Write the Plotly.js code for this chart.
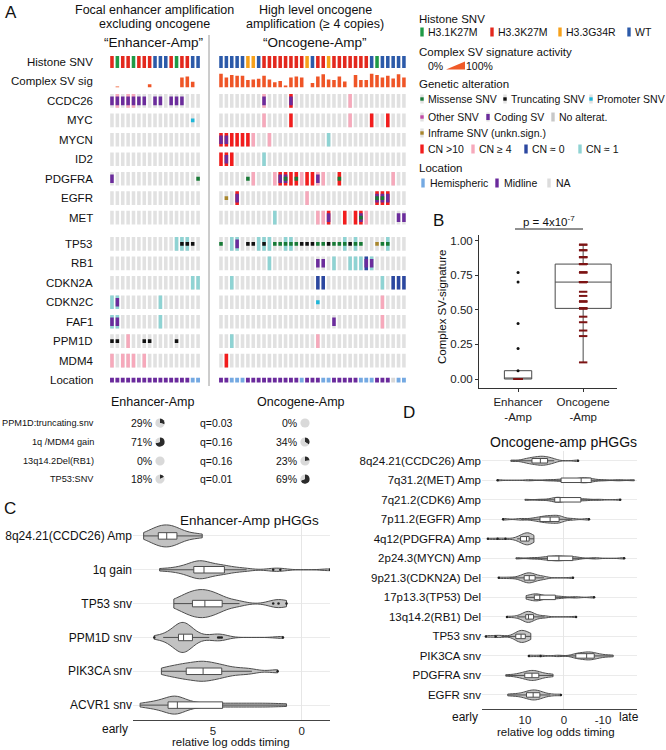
<!DOCTYPE html>
<html><head><meta charset="utf-8">
<script src="https://cdn.plot.ly/plotly-3.0.1.min.js"></script>
<style>html,body{margin:0;padding:0;background:#fff}#chart{width:666px;height:750px}</style>
</head><body><div id="chart"></div>
<script>
// ================= DATA =================
// Panel A: oncoprint (17 Enhancer-Amp samples, 35 Oncogene-Amp samples)
const histoneEnh = 'RGRRGRRRBBBRGRRBB';
const histoneOnc = 'BBBBBOOBRRRRRRRROBRRORRRRRRRBGBBBBB';
const csvEnh = [0,0.06,0,0,0,0,0,0.22,0,0,0,0,0,0.70,0.77,0.40,0];
const csvOnc = [0.97,0.70,0.88,0.83,0.83,0.51,0.56,0.60,0.83,0.56,0.35,0.45,0.12,0.70,0.77,0.70,null,0.31,0.77,0.93,0.56,0.51,0.77,0.41,null,0.88,0.51,0.51,0.97,0.88,0.70,0.83,0.63,0.93,0.70];
const genes = ['CCDC26','MYC','MYCN','ID2','PDGFRA','EGFR','MET','TP53','RB1','CDKN2A','CDKN2C','FAF1','PPM1D','MDM4'];
// tokens: e=Enhancer-Amp / o=Oncogene-Amp, sample index (or range), code
const cnCalls = [
 'e1g e3g e4g o8g o13A o24g',
 'o8g o13A o24g o28A o31A',
 'o0-5A o6g o9g o20L',
 'o0-2A o8L',
 'o6g o10g o11-14A o15g o16-17A o18-19g o22A o32g',
 'o3A o16g o29-31A',
 'o10L o18-19g o20A o23A o25-26A o27g',
 'e12-14L o2-3L o7-9L o12-13L o23L o25L o31L',
 'o9L o21L o24-26L o27D o28L',
 'e15-16L o2L o18-19D o30L o32-34D',
 'e0-1L e9L o30g',
 'e0-1L e9L o30g',
 'e3g o2L o18g',
 'e0g e2-4g e6g o1A'
];
const svCalls = [
 'e0-6 e8-9 e11-13 o8 o13', '', 'o0-1', 'o1', 'e0 o11-12 o18', 'o3 o29-31', 'o20 o26 o33-34',
 'o3', 'o18-19 o27-28', '', 'e1', 'e0-1 o21', '', ''
];
const snvCalls = [
 '', 'e15p', '', '', 'e16m o5m o12m o14m o22m', 'o1i o29-30m', 'o26m',
 'e13-15t o0m o5-6t o8t o10-14m o15-17t o18-19m o20t o21-23m o24t o25-26m o29i o30-31m',
 '', '', 'o18p', '', 'e0-1t e6-7t e12t', ''
];
const locationEnh = 'MMMMMMMMMMMMMMMHH';
const locationOnc = 'MMHHHMMMMMMMMMMHMMMHHMMMMMHHHMMMNHH';

// Frequency table
const tableFeatures = ['PPM1D:truncating.snv','1q /MDM4 gain','13q14.2Del(RB1)','TP53:SNV'];
const pctEnh = [29,71,0,18];
const pctOnc = [0,34,23,69];
const qValues = ['q=0.03','q=0.16','q=0.16','q=0.01'];

// Panel C: Enhancer-Amp timing samples
const catsC = ['8q24.21(CCDC26) Amp','1q gain','TP53 snv','PPM1D snv','PIK3CA snv','ACVR1 snv'];
const timingC = [
 [8.9,8.6,8.4,8.3,8.2,8.1,8.0,7.9,7.8,7.7,7.6,7.6,7.5,7.4,7.3,7.2,7.1,7.0,6.9,6.7,6.4,6.0,5.6],
 [8.0,7.3,6.9,6.6,6.4,6.2,6.1,6.0,5.9,5.8,5.7,5.6,5.5,5.5,5.4,5.2,5.0,4.8,4.6,4.5,4.3,4.0,3.6,3.1,1.6,1.2,-1.6],
 [7.2,6.9,6.6,6.4,6.3,6.2,6.0,5.9,5.7,5.6,5.5,5.45,5.3,5.1,4.9,4.8,4.7,4.4,4.0,3.5,1.6,1.3,0.85],
 [8.3,7.8,7.5,7.3,7.1,7.0,6.95,6.9,6.85,6.8,6.75,6.7,6.7,6.65,6.6,6.55,6.5,6.4,6.35,6.3,6.1,5.8,5.2,4.7,4.6,4.5,1.05],
 [7.9,7.5,7.2,6.9,6.7,6.5,6.3,6.1,5.9,5.7,5.6,5.5,5.3,5.1,4.9,4.7,4.5,4.2,3.8,3.3,2.8,1.35],
 [9.1,8.6,8.3,8.0,7.8,7.6,7.5,7.3,7.2,7.1,7.0,7.0,7.0,6.7,6.5,6.2,5.8,5.2,4.6,4.0,3.4,2.8,2.2,1.6,0.85]
];
// Panel D: Oncogene-Amp timing samples
const catsD = ['8q24.21(CCDC26) Amp','7q31.2(MET) Amp','7q21.2(CDK6) Amp','7p11.2(EGFR) Amp','4q12(PDGFRA) Amp','2p24.3(MYCN) Amp','9p21.3(CDKN2A) Del','17p13.3(TP53) Del','13q14.2(RB1) Del','TP53 snv','PIK3CA snv','PDGFRA snv','EGFR snv'];
const timingD = [
 [13.6,10.5,9.5,8.8,8.2,7.8,7.2,6.6,6.2,5.9,5.6,5.1,4.6,4.2,3.8,3.0,2.5,-3.6],
 [17,9,4,1.5,0.5,-1,-3,-4,-4.4,-4.8,-5.5,-6.2,-6.8,-7.5,-10,-14,-18],
 [10,6,3.5,2.5,2,1.5,1.2,1,0,-1.5,-3.5,-4.6,-6,-9,-14.4],
 [15.6,11,8,6.5,5.8,5,4.2,3.8,3.3,2.5,1.8,1.4,1.1,0.6,-2,-6.4],
 [19.5,17,15,12,11.5,11,10.7,10.4,10.1,9.8,9.6,9.5,9.4,9.3,9.2,9.0,8.7,8.5,8.2,7.9,7.7],
 [12.3,8,5.5,4.5,3.5,2.5,1.8,1.3,0.5,-0.5,-1.5,-2.5,-3.5,-8,-15.4],
 [16.7,14,11.5,10.8,10.2,9.8,9.5,9.2,9.0,8.8,8.5,8.2,7.8,7.4,6.5,5.5,5.1,-2.3],
 [9.7,9.0,8.2,7.6,7.2,6.8,6.4,6.0,4.5,3.0,2.2,0.5,-3,-7.7],
 [14.6,12,10.8,10.2,9.8,9.6,9.4,9.3,9.2,9.0,8.8,8.6,8.3,7.8,7.3,5.5,5.0,-3.1],
 [20,17.5,16,12.8,12.2,11.8,11.5,11.2,11.0,10.9,10.7,10.4,10.0,9.6,9.2,8.9,8.5],
 [9,6,1.5,-2.5,-3.2,-3.8,-4.5,-5.2,-5.8,-6.1,-6.5,-7.0,-7.6,-8.2,-9.0,-10.5,-12.6],
 [14.9,12.5,11.3,10.5,9.9,9.4,8.9,8.5,8.2,7.9,7.5,7.0,6.6,6.0,5.4,4.0,2.8],
 [14.4,12.5,11,10.2,9.4,9.0,8.5,8.2,7.9,7.5,7.1,6.7,6.3,5.8,5.1,3.5,0.8]
];

// ================= STYLE / LAYOUT HELPERS =================
const W = 666, H = 750;
const FONT = '"Liberation Sans", Arial, sans-serif';
const PX = x => x / W, PY = y => 1 - y / H;
const C = {
  hist: {G:'#1f9a46', R:'#e3281d', O:'#f6a11b', B:'#2c5aa9'},
  cn: {A:'#f21d1d', g:'#f6a9bb', D:'#2b47a0', L:'#8fd3d3'},
  snv: {m:'#177a36', t:'#111111', p:'#1fb6d8', o:'#c24aa6', i:'#a8862c'},
  sv:'#6b2c9c', gray:'#e1e1e1', csv:'#ef5527',
  loc: {M:'#6a2a9c', H:'#74a9e2', N:'#d8d8d8'}
};
const ONC_OFFSET = 20.26;   // column gap between the two groups
const colX = (g, i) => g === 'e' ? i : ONC_OFFSET + i;
const geneSlot = k => k < 7 ? 2 + k : 9.35 + (k - 7);
const LOC_SLOT = 16.35;
const CELL_W = 0.66;

function parseCalls(str){
  const out = [];
  (str || '').trim().split(/\s+/).filter(Boolean).forEach(tok => {
    const m = tok.match(/^([eo])(\d+)(?:-(\d+))?([A-Za-z]?)$/);
    const a = +m[2], b = m[3] ? +m[3] : a;
    for (let i = a; i <= b; i++) out.push({g:m[1], i, code:m[4]});
  });
  return out;
}

const traces = [];
const groups = {};
function addCell(key, color, x, center, h, w){
  if (!groups[key]) groups[key] = {color, w, x:[], base:[], y:[]};
  groups[key].x.push(x); groups[key].base.push(center - h/2); groups[key].y.push(h);
}
[['e',histoneEnh],['o',histoneOnc]].forEach(([g,s]) => s.split('').forEach((c,i) => addCell('h'+c, C.hist[c], colX(g,i), 0, 0.62, CELL_W)));
genes.forEach((gn,k) => {
  for (let i=0;i<17;i++) addCell('bg', C.gray, colX('e',i), geneSlot(k), 0.70, CELL_W);
  for (let j=0;j<35;j++) addCell('bg', C.gray, colX('o',j), geneSlot(k), 0.70, CELL_W);
});
genes.forEach((gn,k) => parseCalls(cnCalls[k]).forEach(c => addCell('cn'+c.code, C.cn[c.code], colX(c.g,c.i), geneSlot(k), 0.70, CELL_W)));
genes.forEach((gn,k) => parseCalls(svCalls[k]).forEach(c => addCell('sv', C.sv, colX(c.g,c.i), geneSlot(k), 0.44, CELL_W)));
genes.forEach((gn,k) => parseCalls(snvCalls[k]).forEach(c => addCell('snv'+c.code, C.snv[c.code], colX(c.g,c.i), geneSlot(k), 0.2, CELL_W)));
[['e',locationEnh],['o',locationOnc]].forEach(([g,s]) => s.split('').forEach((c,i) => addCell('loc'+c, C.loc[c], colX(g,i), LOC_SLOT, 0.24, 0.72)));

Object.values(groups).forEach(gr => traces.push({
  type:'bar', x:gr.x, base:gr.base, y:gr.y, width:gr.w, xaxis:'x', yaxis:'y',
  marker:{color:gr.color, line:{width:0}}, hoverinfo:'skip', showlegend:false
}));
// complex SV signature bars (only samples with activity > 0)
const CSV_BOTTOM = 1.3, CSV_MAX = 0.72;
const csvX = [], csvBase = [], csvY = [];
[['e',csvEnh],['o',csvOnc]].forEach(([g,arr]) => arr.forEach((v,i) => {
  if (v === null || v <= 0) return;
  csvX.push(colX(g,i)); csvBase.push(CSV_BOTTOM); csvY.push(-v*CSV_MAX);
}));
traces.push({type:'bar', x:csvX, base:csvBase, y:csvY, width:CELL_W, xaxis:'x', yaxis:'y',
  marker:{color:C.csv, line:{width:0}}, hoverinfo:'skip', showlegend:false});

// ---------- Panel B ----------
const enhVals = csvEnh.filter(v => v !== null);
const oncVals = csvOnc.filter(v => v !== null);
const boxStyle = {type:'box', xaxis:'x2', yaxis:'y2', fillcolor:'#ffffff', line:{color:'#4a4a4a', width:1},
  whiskerwidth:0, boxpoints:'outliers', marker:{opacity:0, size:1}, quartilemethod:'inclusive', hoverinfo:'skip', showlegend:false};
traces.push(Object.assign({}, boxStyle, {x:enhVals.map(()=>0), y:enhVals, width:0.42}));
traces.push(Object.assign({}, boxStyle, {x:oncVals.map(()=>1), y:oncVals, width:0.86}));
const dashX = [], dashY = [], dotX = [], dotY = [];
enhVals.forEach(v => { if (v === 0) { dashX.push(0); dashY.push(v); } else { dotX.push(0); dotY.push(v); } });
oncVals.forEach(v => { dashX.push(1); dashY.push(v); });
traces.push({type:'scatter', mode:'markers', x:dashX, y:dashY, xaxis:'x2', yaxis:'y2',
  marker:{symbol:'line-ew-open', size:6, color:'#7d1414', line:{color:'#7d1414', width:2}}, hoverinfo:'skip', showlegend:false});
traces.push({type:'scatter', mode:'markers', x:dotX, y:dotY, xaxis:'x2', yaxis:'y2',
  marker:{symbol:'circle', size:3, color:'#111'}, hoverinfo:'skip', showlegend:false});

// ---------- Panels C & D (violins) ----------
const violinPxC = [22,18,28,30,20,18], pitchC = 33.8;
const violinPxD = [9,5,5,8,12,5,10,7,11,12,8,10,10], pitchD = 19.5;
function addViolins(cats, data, pxs, pitch, boxPx, bw, xa, ya){
  cats.forEach((cat,k) => {
    const w = pxs[k] / pitch;
    traces.push({type:'violin', orientation:'h', x:data[k], y:data[k].map(()=>cat), xaxis:xa, yaxis:ya,
      width:w, scalemode:'width', spanmode:'hard', bandwidth:bw, side:'both',
      fillcolor:'#c2c2c2', line:{color:'#4d4d4d', width:1},
      box:{visible:true, width:Math.min(0.9, boxPx/pxs[k]), fillcolor:'#ffffff', line:{color:'#4d4d4d', width:1}},
      meanline:{visible:false}, points:'outliers', pointpos:0, jitter:0,
      marker:{size:2.5, color:'#222', line:{width:0}}, hoverinfo:'skip', showlegend:false});
  });
}
addViolins(catsC, timingC, violinPxC, pitchC, 6.5, 0.45, 'x3', 'y3');
addViolins(catsD, timingD, violinPxD, pitchD, 4.5, 1.2, 'x4', 'y4');

// ---------- Pies ----------
function addPie(pct, cx, cy){
  const r = 4.6;
  traces.push({type:'pie', values:[pct, 100-pct], sort:false, direction:'clockwise', rotation:0,
    marker:{colors:['#2b2b2b','#d9d9d9'], line:{width:0}}, textinfo:'none', hoverinfo:'skip', showlegend:false,
    domain:{x:[PX(cx-r), PX(cx+r)], y:[PY(cy+r), PY(cy-r)]}});
}
const tableY = [423, 442, 461, 479];
tableY.forEach((y,k) => { addPie(pctEnh[k], 160, y); addPie(pctOnc[k], 305, y); });

// ================= ANNOTATIONS / SHAPES =================
const ann = [], shapes = [];
function txt(text, x, y, size, anchor, extra){
  ann.push(Object.assign({text, x:PX(x), y:PY(y), xref:'paper', yref:'paper', showarrow:false,
    xanchor:anchor||'left', yanchor:'middle', font:{family:FONT, size:size||11, color:'#111'}}, extra||{}));
}
function rect(x0,y0,x1,y1,color){
  shapes.push({type:'rect', xref:'paper', yref:'paper', x0:PX(x0), x1:PX(x1), y0:PY(y1), y1:PY(y0), fillcolor:color, line:{width:0}, layer:'above'});
}
txt('A', 3, 12, 17); txt('B', 431, 221, 17); txt('C', 2, 508, 17); txt('D', 401, 412, 17);
txt('Focal enhancer amplification', 154, 10, 12.5, 'center');
txt('excluding oncogene', 154, 24, 12.5, 'center');
txt('\u201cEnhancer-Amp\u201d', 153, 42, 13.5, 'center');
txt('High level oncogene', 315, 10, 12.5, 'center');
txt('amplification (\u2265 4 copies)', 315, 24, 12.5, 'center');
txt('\u201cOncogene-Amp\u201d', 315, 42, 13.5, 'center');
const rowLabels = ['Histone SNV','Complex SV sig'].concat(genes, ['Location']);
const rowSlots = [0,1].concat(genes.map((g,k)=>geneSlot(k)), [LOC_SLOT]);
rowLabels.forEach((lab,k) => ann.push({text:lab, x:PX(95), xref:'paper', y:rowSlots[k], yref:'y', showarrow:false,
  xanchor:'right', yanchor:'middle', font:{family:FONT, size:11.5, color:'#111'}}));
shapes.push({type:'line', xref:'paper', yref:'paper', x0:PX(209), x1:PX(209), y0:PY(35), y1:PY(386), line:{color:'#9a9a9a', width:1}});

// Legend (panel A)
function legBar(x, y, color){ rect(x-1.7, y-4.5, x+1.7, y+4.5, color); }
function legSnv(x, y, color){ rect(x-1.7, y-4.5, x+1.7, y+4.5, C.gray); rect(x-1.7, y-1.7, x+1.7, y+1.7, color); }
function legSv(x, y){ rect(x-1.7, y-4.5, x+1.7, y+4.5, C.gray); rect(x-1.7, y-3, x+1.7, y+3, C.sv); }
const LG = 10.5, LT = 11.5;
txt('Histone SNV', 417, 19, LT);
[[422,C.hist.G,'H3.1K27M'],[492,C.hist.R,'H3.3K27M'],[560,C.hist.O,'H3.3G34R'],[629,C.hist.B,'WT']].forEach(([x,c,l]) => { legBar(x,32,c); txt(l, x+4, 32, LG); });
txt('Complex SV signature activity', 417, 52, LT);
txt('0%', 426, 66, LG);
shapes.push({type:'path', xref:'paper', yref:'paper', path:`M ${PX(446)},${PY(69.5)} L ${PX(465)},${PY(69.5)} L ${PX(465)},${PY(61.5)} Z`, fillcolor:'#f05a28', line:{width:0}});
txt('100%', 464, 66, LG);
txt('Genetic alteration', 417, 84, LT);
[[422,C.snv.m,'Missense SNV'],[505,C.snv.t,'Truncating SNV'],[591,C.snv.p,'Promoter SNV']].forEach(([x,c,l]) => { legSnv(x,99,c); txt(l, x+4, 99, LG); });
legSnv(422,117,C.snv.o); txt('Other SNV', 426, 117, LG);
legSv(488,117); txt('Coding SV', 492, 117, LG);
legBar(553,117,'#c8c8c8'); txt('No alterat.', 557, 117, LG);
legSnv(422,133,C.snv.i); txt('Inframe SNV (unkn.sign.)', 426, 133, LG);
[[422,C.cn.A,'CN >10'],[473,C.cn.g,'CN \u2265 4'],[526,C.cn.D,'CN \u2248 0'],[580,C.cn.L,'CN \u2248 1']].forEach(([x,c,l]) => { legBar(x,149,c); txt(l, x+4, 149, LG); });
txt('Location', 417, 168, LT);
[[423,C.loc.H,'Hemispheric'],[497,C.loc.M,'Midline'],[549,'#dcdcdc','NA']].forEach(([x,c,l]) => { legBar(x,183,c); txt(l, x+5, 183, LG); });

// Frequency table
txt('Enhancer-Amp', 152, 402, 12.5, 'center');
txt('Oncogene-Amp', 301, 402, 12.5, 'center');
tableFeatures.forEach((f,k) => {
  const y = tableY[k];
  txt(f, 96, y, 9.2, 'right');
  txt(pctEnh[k] + '%', 154, y, 10.5, 'right');
  txt(qValues[k], 216, y, 10.5, 'center');
  txt(pctOnc[k] + '%', 299, y, 10.5, 'right');
});

txt('p = 4x10<sup>-7</sup>', 549, 221, 11.5, 'center');
shapes.push({type:'line', xref:'paper', yref:'paper', x0:PX(515), x1:PX(583), y0:PY(229), y1:PY(229), line:{color:'#222', width:1}});
txt('Complex SV-signature', 442, 307, 11.5, 'center', {textangle:-90});

txt('Enhancer-Amp pHGGs', 250, 520, 13.5, 'center');
txt('early', 115, 729, 12, 'center');
txt('relative log odds timing', 231, 742, 11.5, 'center');
txt('Oncogene-amp pHGGs', 563, 442, 14, 'center');
txt('early', 465, 717, 12, 'center');
txt('late', 629, 717, 12, 'center');
txt('relative log odds timing', 556, 732, 11.5, 'center');

// ================= LAYOUT =================
const tickFont = {family:FONT, size:11.5, color:'#222'};
const layout = {
  width:W, height:H, margin:{l:0,r:0,t:0,b:0}, paper_bgcolor:'#fff', plot_bgcolor:'rgba(0,0,0,0)',
  barmode:'overlay', violinmode:'overlay', boxmode:'overlay', hovermode:false, showlegend:false,
  font:{family:FONT, color:'#111'},
  xaxis:{domain:[PX(106.6), PX(413.3)], range:[-1, 56], visible:false, fixedrange:true},
  yaxis:{domain:[PY(392.7), PY(50.3)], range:[17, -0.6], visible:false, fixedrange:true},
  xaxis2:{domain:[PX(479), PX(617)], range:[-0.6, 1.52], anchor:'y2', tickvals:[0,1], ticktext:['Enhancer<br>-Amp','Oncogene<br>-Amp'],
    showline:true, linecolor:'#333', linewidth:1, ticks:'outside', ticklen:3, tickcolor:'#333', showgrid:false, zeroline:false, tickfont:tickFont},
  yaxis2:{domain:[PY(388), PY(235)], range:[-0.065, 1.04], anchor:'x2', tickvals:[0,0.25,0.5,0.75,1], ticktext:['0.00','0.25','0.50','0.75','1.00'],
    showline:true, linecolor:'#333', linewidth:1, ticks:'outside', ticklen:3, tickcolor:'#333', showgrid:false, zeroline:false, tickfont:tickFont},
  xaxis3:{domain:[PX(133), PX(330)], range:[9.5, -1.6], anchor:'y3', tickvals:[5,0], ticktext:['5','0'], showline:true, linecolor:'#444', linewidth:1,
    ticks:'', showgrid:false, zeroline:true, zerolinecolor:'#e6e6e6', zerolinewidth:1, tickfont:{family:FONT, size:11.5, color:'#222'}},
  yaxis3:{domain:[PY(720), PY(519)], range:[5.44, -0.5], anchor:'x3', type:'category', categoryorder:'array', categoryarray:catsC,
    showgrid:true, gridcolor:'#ebebeb', gridwidth:1, ticks:'', showline:false, tickfont:{family:FONT, size:12, color:'#111'}},
  xaxis4:{domain:[PX(482), PX(637)], range:[21, -18.7], anchor:'y4', tickvals:[10,0,-10], ticktext:['10','0','-10'], showline:true, linecolor:'#444', linewidth:1,
    ticks:'', showgrid:false, zeroline:true, zerolinecolor:'#e6e6e6', zerolinewidth:1, tickfont:{family:FONT, size:11.5, color:'#222'}},
  yaxis4:{domain:[PY(709), PY(451)], range:[12.72, -0.5], anchor:'x4', type:'category', categoryorder:'array', categoryarray:catsD,
    showgrid:true, gridcolor:'#ebebeb', gridwidth:1, ticks:'', showline:false, tickfont:{family:FONT, size:11.5, color:'#111'}},
  annotations:ann, shapes:shapes
};
Plotly.newPlot('chart', traces, layout, {staticPlot:true, displayModeBar:false});
</script>
</body></html>
